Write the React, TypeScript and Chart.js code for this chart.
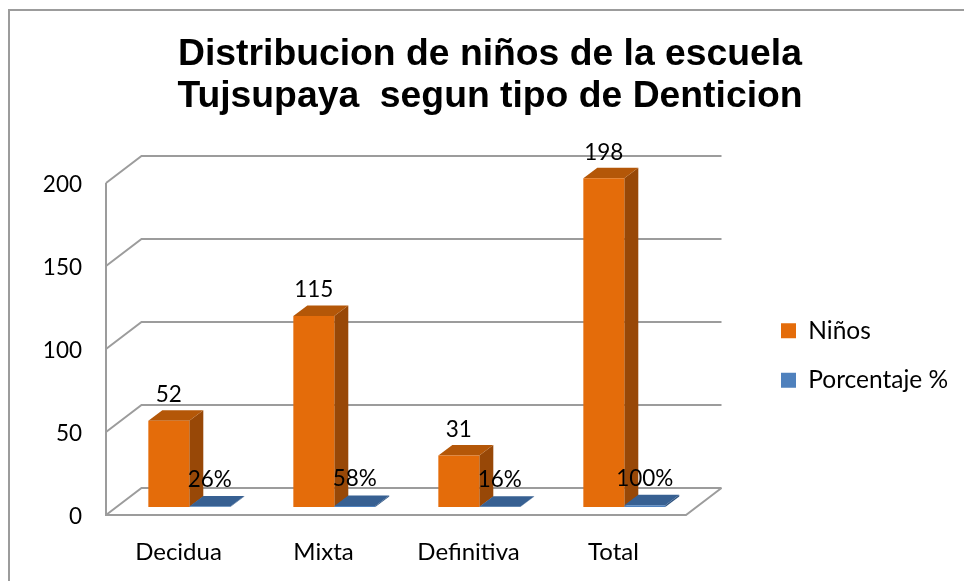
import React, { useEffect, useRef } from "react";
import { Chart, registerables } from "chart.js";

Chart.register(...registerables);

const categories = ["Decidua", "Mixta", "Definitiva", "Total"];
const ninos = [52, 115, 31, 198];
const porcentaje = [0.26, 0.58, 0.16, 1];
const titleLines = ["Distribucion de niños de la escuela", "Tujsupaya  segun tipo de Denticion"];

const BODY_FONT = "Lato";
const GRID = "#9c9c9c";
const BAR_SHIFT = { x: 10.8, y: -8 };
const WALL = { x: 35.5, y: -27 };
const BAR_DEPTH = { x: 14, y: -10.5 };
const FACES = [
  { top: "#B45708", side: "#984807" },
  { top: "#376092", side: "#2F5480" },
];

const poly = (ctx: CanvasRenderingContext2D, pts: number[][], fill: string) => {
  ctx.beginPath();
  pts.forEach(([x, y], i) => (i ? ctx.lineTo(x, y) : ctx.moveTo(x, y)));
  ctx.closePath();
  ctx.fillStyle = fill;
  ctx.fill();
};

const scene3d = {
  id: "scene3d",
  beforeUpdate(chart: any) {
    const l = chart.legend;
    if (l && !l.__wrapped) {
      const fit = l.fit;
      l.fit = function () {
        fit.call(this);
        this.width = 278;
      };
      l.__wrapped = true;
    }
  },
  afterLayout(chart: any) {
    const l = chart.legend;
    if (l) {
      l.left = 756;
      l.right = 964;
      l.top = 281;
      l.bottom = 430;
    }
  },
  beforeDatasetsDraw(chart: any) {
    const { ctx, scales } = chart;
    const { x: xs, y: ys } = scales;
    const L = xs.left;
    const R = xs.right;
    ctx.save();
    ctx.strokeStyle = GRID;
    ctx.lineWidth = 2;
    ctx.lineJoin = "miter";
    // outer frame: only the top and left edges fall inside the picture
    ctx.beginPath();
    ctx.moveTo(9, 581);
    ctx.lineTo(9, 10);
    ctx.lineTo(964, 10);
    ctx.stroke();
    // walls and floor
    ys.ticks.forEach((t: any) => {
      const y = ys.getPixelForValue(t.value);
      ctx.beginPath();
      ctx.moveTo(L, y);
      ctx.lineTo(L + WALL.x, y + WALL.y);
      ctx.lineTo(R + WALL.x, y + WALL.y);
      ctx.stroke();
    });
    const y0 = ys.getPixelForValue(0);
    ctx.beginPath();
    ctx.moveTo(L, ys.getPixelForValue(200));
    ctx.lineTo(L, y0);
    ctx.lineTo(R, y0);
    ctx.lineTo(R + WALL.x, y0 + WALL.y);
    ctx.stroke();
    ctx.restore();

    ctx.save();
    ctx.translate(BAR_SHIFT.x, BAR_SHIFT.y);
    [0, 1].forEach((d) => {
      chart.getDatasetMeta(d).data.forEach((b: any) => {
        const x1 = b.x - b.width / 2;
        const x2 = b.x + b.width / 2;
        const dx = BAR_DEPTH.x;
        const dy = BAR_DEPTH.y;
        poly(ctx, [[x2, b.y], [x2 + dx, b.y + dy], [x2 + dx, b.base + dy], [x2, b.base]], FACES[d].side);
        poly(ctx, [[x1, b.y], [x1 + dx, b.y + dy], [x2 + dx, b.y + dy], [x2, b.y]], FACES[d].top);
      });
    });
  },
  afterDatasetsDraw(chart: any) {
    const { ctx } = chart;
    ctx.fillStyle = "#000";
    ctx.font = `22.5px ${BODY_FONT}`;
    ctx.textAlign = "center";
    ctx.textBaseline = "middle";
    chart.getDatasetMeta(0).data.forEach((b: any, i: number) => {
      ctx.fillText(String(ninos[i]), b.x, b.y - 26);
    });
    chart.getDatasetMeta(1).data.forEach((b: any, i: number) => {
      ctx.fillText(`${Math.round(porcentaje[i] * 100)}%`, b.x, b.y - 27);
    });
    ctx.restore();
  },
};

export default function App() {
  const ref = useRef<HTMLCanvasElement>(null);
  useEffect(() => {
    const chart = new Chart(ref.current!, {
      type: "bar",
      plugins: [scene3d],
      data: {
        labels: categories,
        datasets: [
          { label: "Niños", data: ninos, backgroundColor: "#E46C0A" },
          { label: "Porcentaje %", data: porcentaje, backgroundColor: "#4F81BD" },
        ],
      },
      options: {
        animation: false,
        responsive: false,
        devicePixelRatio: 1,
        layout: { padding: { left: 16, right: 0, top: 0, bottom: 0 } },
        datasets: { bar: { categoryPercentage: 0.565, barPercentage: 1 } },
        plugins: {
          title: {
            display: true,
            text: titleLines,
            color: "#000",
            font: { family: "Liberation Sans", size: 37.3, weight: "bold", lineHeight: 1.126 },
            padding: { top: 34, bottom: 65 },
          },
          legend: {
            display: true,
            position: "right",
            labels: {
              boxWidth: 15,
              boxHeight: 15,
              padding: 25,
              color: "#000",
              font: { family: BODY_FONT, size: 24.5 },
            },
          },
          tooltip: { enabled: false },
        },
        scales: {
          x: {
            grid: { display: false },
            border: { display: false },
            ticks: { color: "#000", padding: 15, font: { family: BODY_FONT, size: 24 }, maxRotation: 0 },
            afterFit: (s: any) => {
              s.height = 66;
            },
          },
          y: {
            min: 0,
            max: 200,
            grid: { display: false },
            border: { display: false },
            ticks: { stepSize: 50, color: "#000", padding: 16, labelOffset: 2, font: { family: BODY_FONT, size: 22.5 } },
            afterFit: (s: any) => {
              s.width = 90;
            },
          },
        },
      },
    } as any);
    chart.update();
    return () => chart.destroy();
  }, []);
  return (
    <canvas
      ref={ref}
      width={964}
      height={581}
      style={{ position: "absolute", left: 0, top: 0, display: "block" }}
    />
  );
}
